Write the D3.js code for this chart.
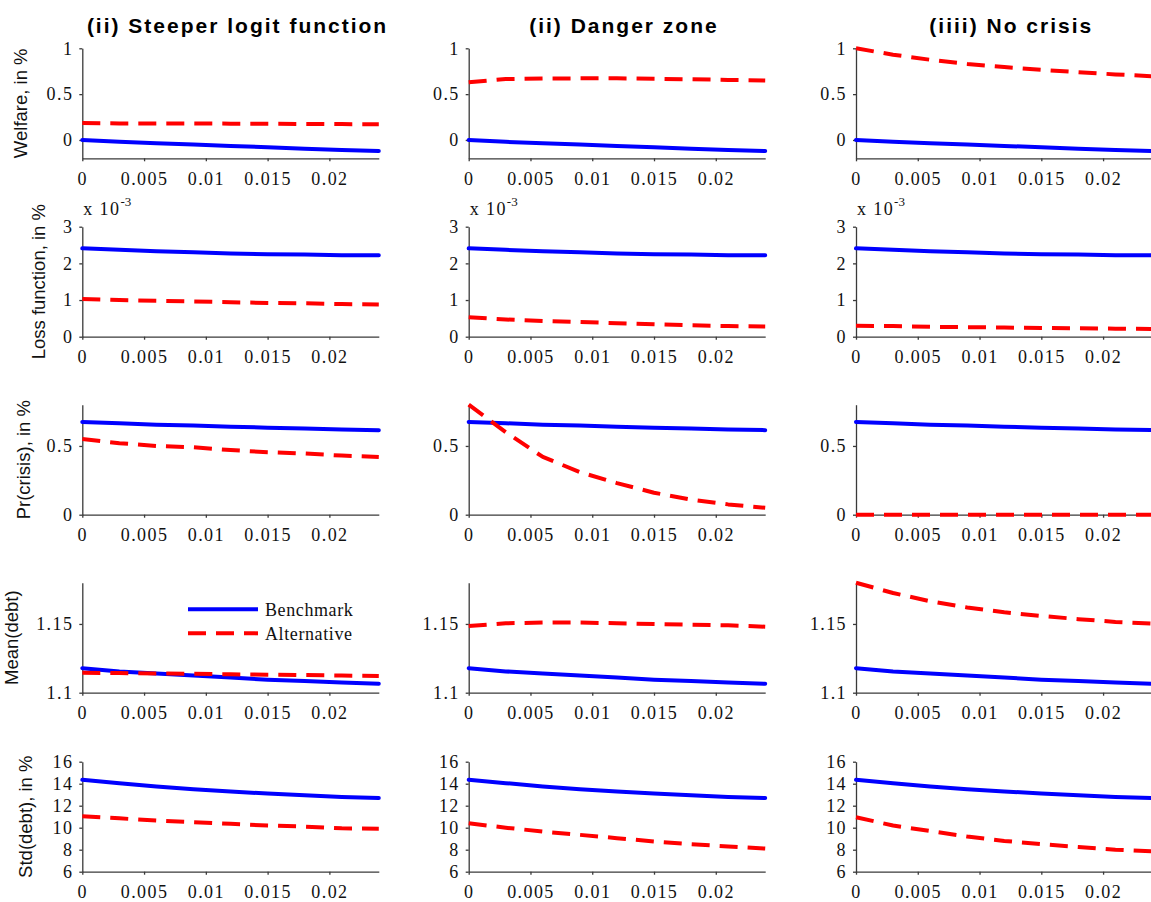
<!DOCTYPE html>
<html>
<head>
<meta charset="utf-8">
<script src="https://cdn.jsdelivr.net/npm/d3@7"></script>
<style>
  body { margin: 0; background: #fff; }
  svg { display: block; }
</style>
</head>
<body>
<svg width="1151" height="902"></svg>
<script>
// x values (policy parameter), shared by all panels
const xGrid = [0, 0.003, 0.006, 0.009, 0.012, 0.015, 0.018, 0.021, 0.024];
const xTicks = [0, 0.005, 0.01, 0.015, 0.02];

const columnTitles = ['(ii) Steeper logit function', '(ii) Danger zone', '(iiii) No crisis'];

// Welfare, in %
const welfareBench = [0, -0.02, -0.035, -0.05, -0.065, -0.08, -0.095, -0.11, -0.12];
const welfareAltLogit = [0.185, 0.18, 0.18, 0.18, 0.178, 0.177, 0.175, 0.173, 0.172];
const welfareAltDanger = [0.63, 0.665, 0.67, 0.672, 0.672, 0.668, 0.662, 0.655, 0.648];
const welfareAltNoCrisis = [1.0, 0.93, 0.875, 0.83, 0.795, 0.765, 0.74, 0.715, 0.695];

// Loss function, in % (x 10^-3)
const lossBench = [2.41, 2.37, 2.33, 2.3, 2.27, 2.25, 2.24, 2.22, 2.22];
const lossAltLogit = [1.03, 1.0, 0.98, 0.96, 0.94, 0.92, 0.91, 0.89, 0.88];
const lossAltDanger = [0.53, 0.47, 0.43, 0.4, 0.37, 0.34, 0.31, 0.29, 0.28];
const lossAltNoCrisis = [0.3, 0.29, 0.27, 0.26, 0.25, 0.24, 0.23, 0.22, 0.21];

// Pr(crisis), in %
const crisisBench = [0.675, 0.665, 0.655, 0.648, 0.64, 0.633, 0.627, 0.62, 0.615];
const crisisAltLogit = [0.55, 0.52, 0.5, 0.49, 0.47, 0.455, 0.445, 0.43, 0.42];
const crisisAltDanger = [0.8, 0.6, 0.42, 0.31, 0.23, 0.16, 0.11, 0.075, 0.05];
const crisisAltNoCrisis = [0, 0, 0, 0, 0, 0, 0, 0, 0];

// Mean(debt)
const meanBench = [1.1178, 1.1155, 1.114, 1.1125, 1.111, 1.1095, 1.1085, 1.1075, 1.1065];
const meanAltLogit = [1.1145, 1.1143, 1.114, 1.1137, 1.1134, 1.1131, 1.1128, 1.1125, 1.1122];
const meanAltDanger = [1.1485, 1.1505, 1.151, 1.151, 1.1505, 1.15, 1.1495, 1.149, 1.148];
const meanAltNoCrisis = [1.18, 1.1725, 1.1665, 1.162, 1.1585, 1.1558, 1.1535, 1.1515, 1.1503];

// Std(debt), in %
const stdBench = [14.35, 14.05, 13.75, 13.5, 13.3, 13.1, 12.95, 12.8, 12.7];
const stdAltLogit = [11.05, 10.85, 10.65, 10.5, 10.35, 10.2, 10.1, 9.95, 9.9];
const stdAltDanger = [10.4, 10.0, 9.65, 9.35, 9.05, 8.75, 8.5, 8.3, 8.1];
const stdAltNoCrisis = [10.95, 10.2, 9.7, 9.2, 8.8, 8.5, 8.25, 8.0, 7.85];

const legendLabels = ['Benchmark', 'Alternative'];

const rows = [
  { label: 'Welfare, in %', domain: [-0.2, 1], ticks: [0, 0.5, 1],
    bench: welfareBench, alts: [welfareAltLogit, welfareAltDanger, welfareAltNoCrisis], labelOff: 55 },
  { label: 'Loss function, in %', domain: [0, 3], ticks: [0, 1, 2, 3],
    bench: lossBench, alts: [lossAltLogit, lossAltDanger, lossAltNoCrisis], labelOff: 37, exponent: true },
  { label: 'Pr(crisis), in %', domain: [0, 0.8], ticks: [0, 0.5],
    bench: crisisBench, alts: [crisisAltLogit, crisisAltDanger, crisisAltNoCrisis], labelOff: 52 },
  { label: 'Mean(debt)', domain: [1.1, 1.18], ticks: [1.1, 1.15],
    bench: meanBench, alts: [meanAltLogit, meanAltDanger, meanAltNoCrisis], labelOff: 64 },
  { label: 'Std(debt), in %', domain: [6, 16], ticks: [6, 8, 10, 12, 14, 16],
    bench: stdBench, alts: [stdAltLogit, stdAltDanger, stdAltNoCrisis], labelOff: 50 }
];

const svg = d3.select('svg');

const colLeft = [82.3, 468.7, 856];
const panelW = 296.5;
const rowTop = [48.3, 226.7, 404.7, 582.7, 761.7];
const panelH = 110;

const blue = '#0000ff';
const red = '#ff0000';
const lineW = 4;
const dash = '18,10';
const serif = '"Liberation Serif", "Times New Roman", serif';
const sans = '"Liberation Sans", Arial, sans-serif';

// style an axis group the way the figure does
function styleAxis(ax) {
  ax.selectAll('.domain, .tick line')
      .attr('stroke', '#3a3a3a')
      .attr('stroke-width', 1.3);
  ax.selectAll('.tick text')
      .style('font-family', serif)
      .style('font-size', '18px')
      .style('letter-spacing', '1.4px')
      .attr('fill', '#111');
}

// column titles
columnTitles.forEach((t, c) => {
  svg.append('text')
      .attr('x', colLeft[c] + panelW / 2 + 7)
      .attr('y', 33)
      .attr('text-anchor', 'middle')
      .style('font-family', sans)
      .style('font-weight', 'bold')
      .style('font-size', '21px')
      .style('letter-spacing', '2px')
      .text(t);
});

rows.forEach((row, r) => {
  const y = d3.scaleLinear().domain(row.domain).range([panelH, 0]);
  const x = d3.scaleLinear().domain([0, 0.024]).range([0, panelW]);

  // y label only on the left column
  svg.append('text')
      .attr('transform', `translate(${colLeft[0] - row.labelOff}, ${rowTop[r] + panelH / 2}) rotate(-90)`)
      .attr('text-anchor', 'middle')
      .style('font-family', sans)
      .style('font-size', '18.5px')
      .style('fill', '#111')
      .text(row.label);

  colLeft.forEach((cx, c) => {
    const g = svg.append('g')
        .attr('transform', `translate(${cx}, ${rowTop[r]})`);

    g.append('g')
        .attr('transform', `translate(0, ${panelH})`)
        .call(d3.axisBottom(x).tickValues(xTicks).tickFormat(d3.format('~g'))
          .tickSize(3).tickSizeOuter(0).tickPadding(11))
        .call(styleAxis);

    g.append('g')
        .call(d3.axisLeft(y).tickValues(row.ticks).tickFormat(d3.format('~g'))
          .tickSize(3).tickSizeOuter(0).tickPadding(6))
        .call(styleAxis);

    if (row.exponent) {
      const ex = g.append('text')
          .attr('x', 1)
          .attr('y', -12)
          .style('font-family', serif)
          .style('font-size', '18px')
          .style('letter-spacing', '1.4px')
          .style('fill', '#111')
          .text('x 10');
      ex.append('tspan')
          .attr('dy', -9)
          .style('font-size', '13px')
          .style('letter-spacing', '0px')
          .text('-3');
    }

    const line = d3.line()
        .x((d, i) => x(xGrid[i]))
        .y(d => y(d));

    g.append('path')
        .datum(row.bench)
        .attr('d', line)
        .attr('fill', 'none')
        .attr('stroke', blue)
        .attr('stroke-width', lineW)
        .attr('stroke-linejoin', 'round')
        .attr('stroke-linecap', 'round');

    g.append('path')
        .datum(row.alts[c])
        .attr('d', line)
        .attr('fill', 'none')
        .attr('stroke', red)
        .attr('stroke-width', lineW)
        .attr('stroke-dasharray', dash)
        .attr('stroke-linejoin', 'round');
  });
});

// legend in Mean(debt), first column
const legend = svg.append('g');
const legendY = [609.3, 633.3];
legendLabels.forEach((lab, i) => {
  legend.append('line')
      .attr('x1', 188).attr('x2', 258)
      .attr('y1', legendY[i]).attr('y2', legendY[i])
      .attr('stroke', i === 0 ? blue : red)
      .attr('stroke-width', lineW)
      .attr('stroke-dasharray', i === 0 ? null : dash);
  legend.append('text')
      .attr('x', 265)
      .attr('y', legendY[i] + 7)
      .style('font-family', serif)
      .style('font-size', '18px')
      .style('letter-spacing', '0.6px')
      .style('fill', '#111')
      .text(lab);
});
</script>
</body>
</html>
